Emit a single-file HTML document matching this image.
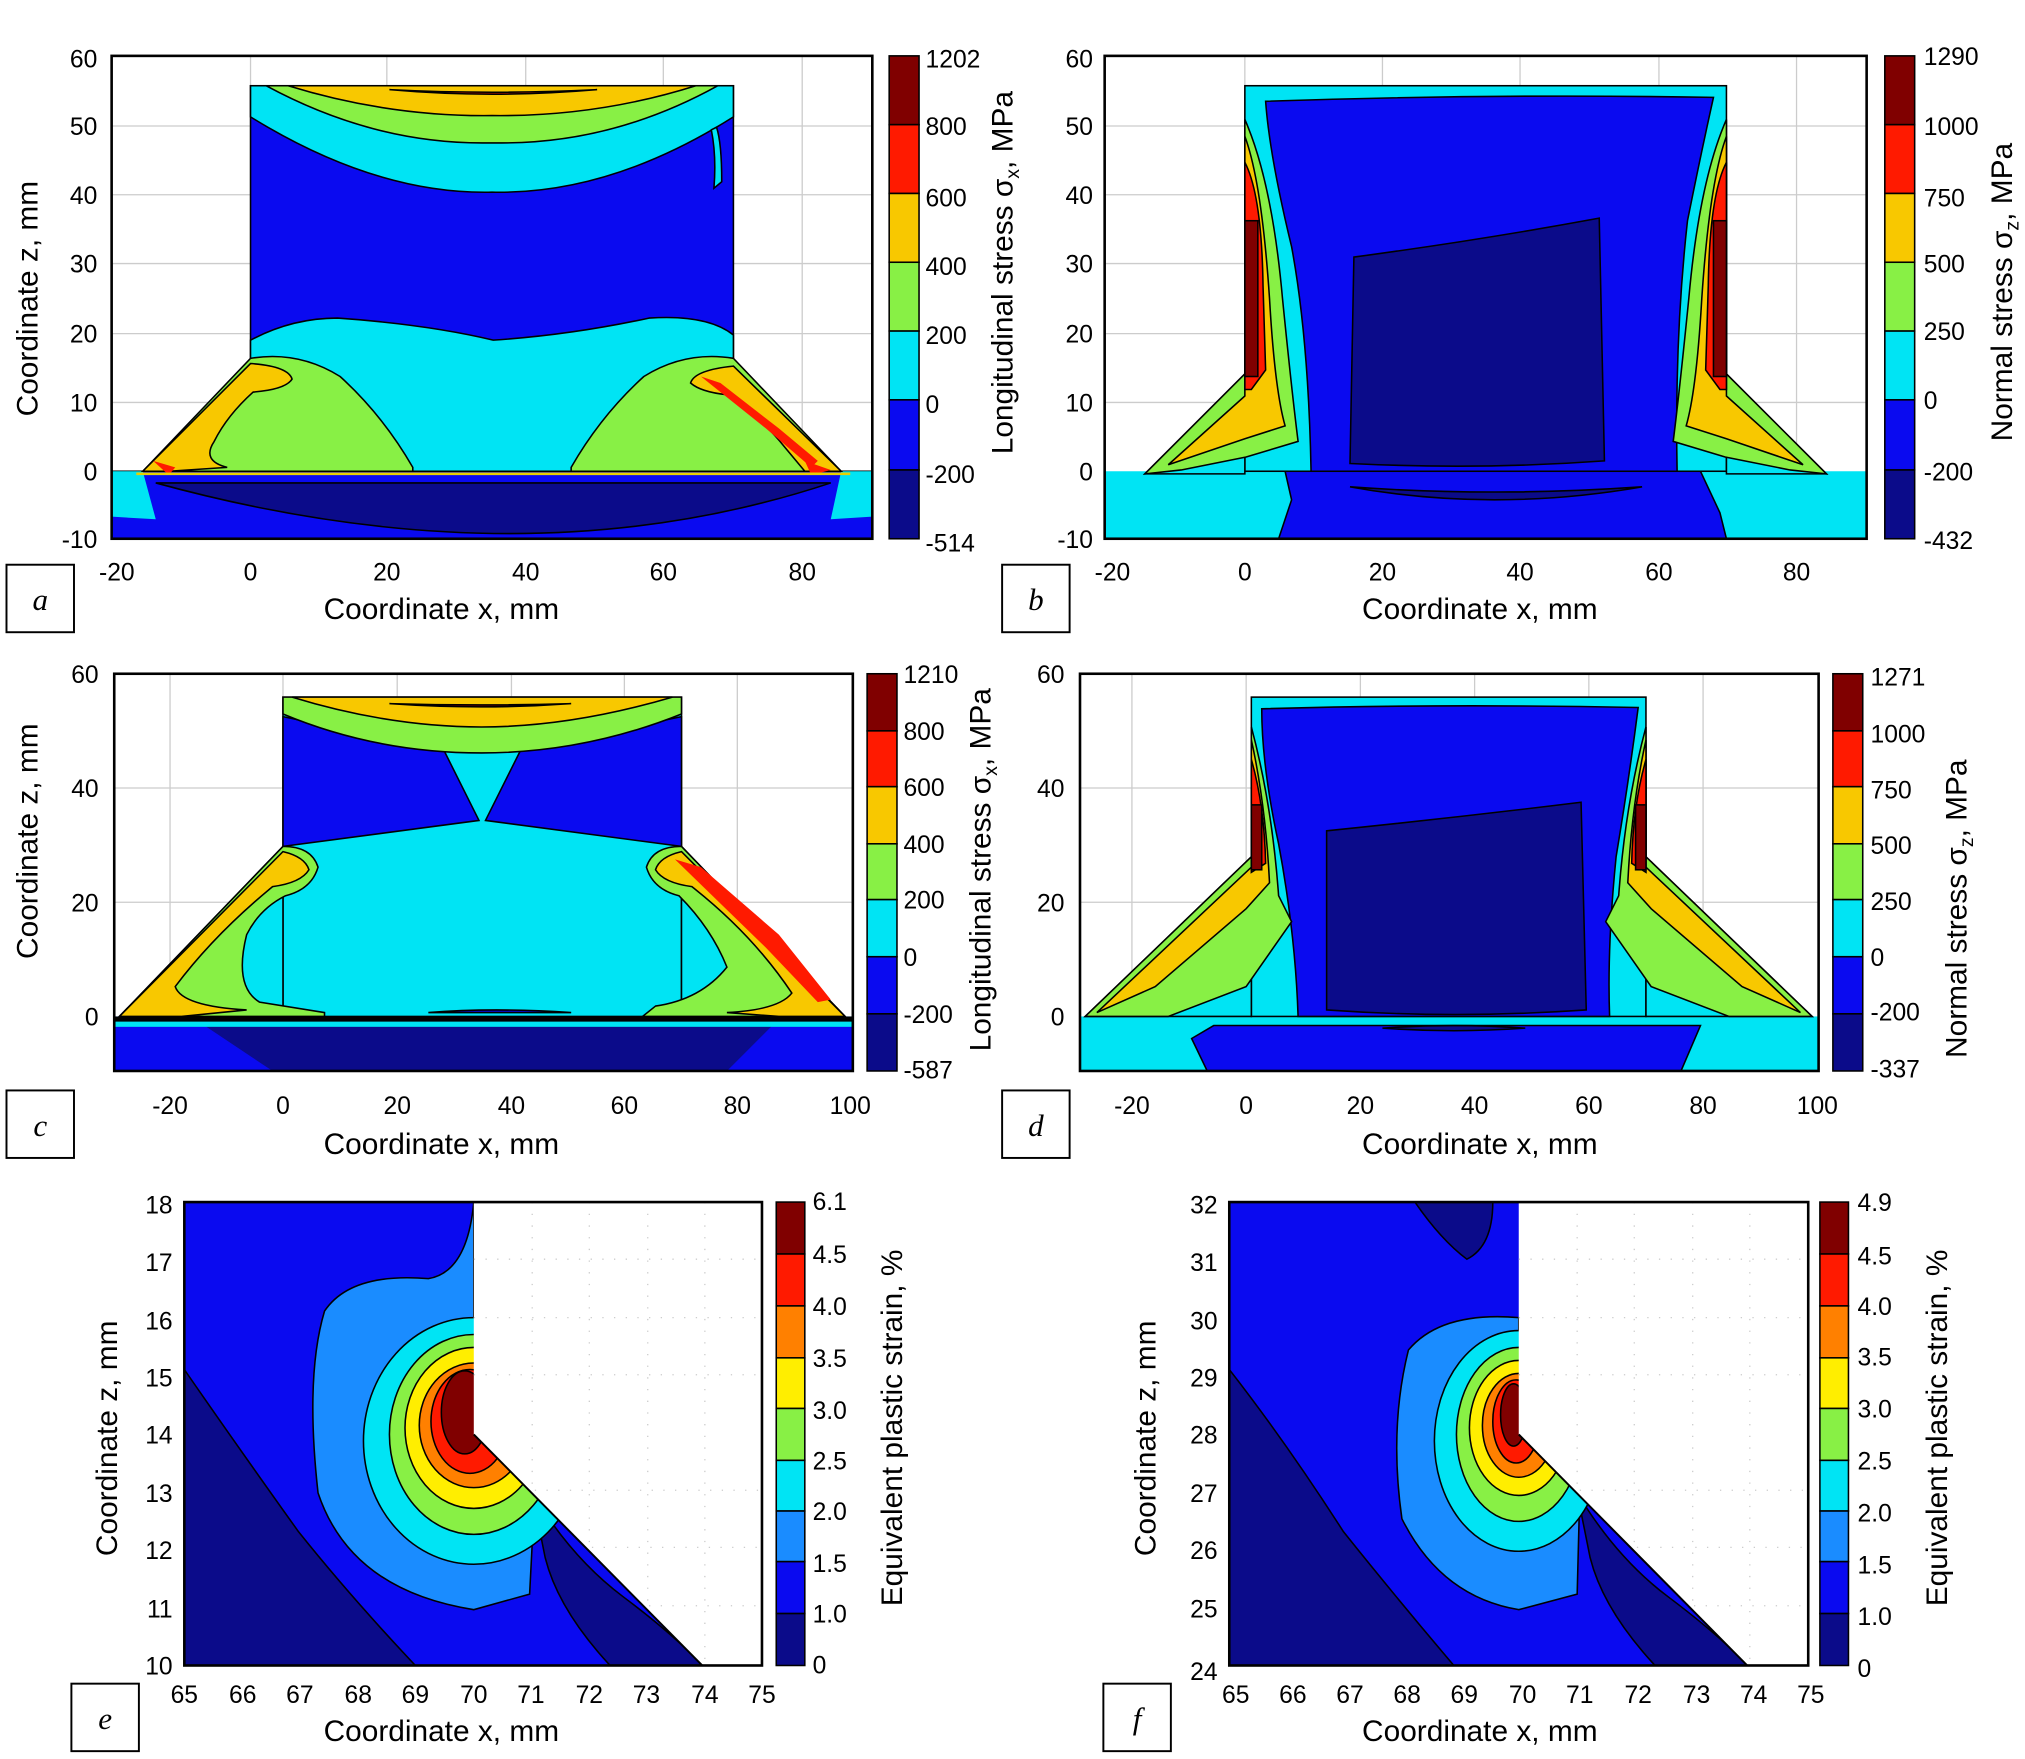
<!DOCTYPE html>
<html><head><meta charset="utf-8"><style>
html,body{margin:0;padding:0;background:#fff}
svg{display:block}
text{font-family:"Liberation Sans",sans-serif;fill:#000}
.t{font-size:19px}
.l{font-size:23px}
.it{font-size:24px;font-style:italic;font-family:"Liberation Serif",serif}
.ax{fill:none;stroke:#000;stroke-width:2}
.g{stroke:#ccc;stroke-width:1}
.k{stroke:#000;stroke-width:1.2}
</style></head><body>
<svg width="2025" height="1759" viewBox="0 0 1560 1355" xmlns="http://www.w3.org/2000/svg">
<defs>
<clipPath id="ca"><rect x="86" y="43" width="586" height="372"/></clipPath>
<clipPath id="cb"><rect x="851" y="43" width="587" height="372"/></clipPath>
<clipPath id="cc"><rect x="88" y="519" width="569" height="306"/></clipPath>
<clipPath id="cd"><rect x="832" y="519" width="569" height="306"/></clipPath>
<clipPath id="ce"><rect x="142" y="926" width="445" height="357"/></clipPath>
<clipPath id="cf"><rect x="947" y="926" width="446" height="357"/></clipPath>
</defs>

<!-- ===== Panel a ===== -->
<g>
<g class="g">
<line x1="193" y1="43" x2="193" y2="415"/><line x1="298" y1="43" x2="298" y2="415"/><line x1="405" y1="43" x2="405" y2="415"/><line x1="511" y1="43" x2="511" y2="415"/><line x1="618" y1="43" x2="618" y2="415"/>
<line x1="86" y1="97" x2="672" y2="97"/><line x1="86" y1="150" x2="672" y2="150"/><line x1="86" y1="203" x2="672" y2="203"/><line x1="86" y1="257" x2="672" y2="257"/><line x1="86" y1="310" x2="672" y2="310"/>
</g>
<g clip-path="url(#ca)" class="k">
<rect x="86" y="363" width="586" height="52" fill="#0a0af0"/>
<path d="M86,363 L110,363 L120,400 L86,398Z" fill="#00e4f4" stroke="none"/>
<path d="M672,363 L648,363 L640,400 L672,398Z" fill="#00e4f4" stroke="none"/>
<path d="M120,372 Q405,450 640,372Z" fill="#0b0b8a"/>
<rect x="193" y="66" width="372" height="297" fill="#0a0af0"/>
<path d="M193,275 L193,262 Q225,245 260,245 Q330,250 380,262 Q440,258 500,245 Q545,242 565,258 L565,363 L193,363Z" fill="#00e4f4"/>
<path d="M193,66 L565,66 L565,90 Q470,150 379,148 Q290,150 193,90Z" fill="#00e4f4"/>
<path d="M205,66 L553,66 Q470,112 379,110 Q290,112 205,66Z" fill="#88f045"/>
<path d="M222,66 L536,66 Q460,90 379,89 Q300,90 222,66Z" fill="#f8c800"/>
<path d="M300,69 Q379,76 460,69 Q379,73 300,69Z" fill="#ff1a00"/>
<path d="M548,100 Q552,120 550,145 L556,140 Q556,110 552,98Z" fill="#00e4f4"/>
<path d="M110,363 L193,276 Q230,270 262,290 Q295,320 318,360 L318,363Z" fill="#88f045"/>
<path d="M110,363 L193,280 Q222,282 225,292 Q220,300 195,302 Q175,320 165,340 Q155,355 175,360 L130,363Z" fill="#f8c800"/>
<path d="M648,363 L565,276 Q528,270 496,290 Q463,320 440,360 L440,363Z" fill="#88f045"/>
<path d="M648,363 L565,282 Q535,285 532,295 Q540,302 560,304 Q585,320 605,345 L620,363Z" fill="#f8c800"/>
<path d="M540,290 L555,295 L600,330 L630,355 L625,360 L590,330Z" fill="#ff1a00" stroke="none"/>
<path d="M118,355 L135,360 L130,366Z" fill="#ff1a00" stroke="none"/>
<path d="M620,355 L640,362 L625,366Z" fill="#ff1a00" stroke="none"/>
<line x1="105" y1="365" x2="655" y2="365" stroke="#e8d000" stroke-width="2"/>
</g>
<rect x="86" y="43" width="586" height="372" class="ax"/>
<g class="t" text-anchor="end">
<text x="75" y="52">60</text><text x="75" y="104">50</text><text x="75" y="157">40</text><text x="75" y="210">30</text><text x="75" y="264">20</text><text x="75" y="317">10</text><text x="75" y="370">0</text><text x="75" y="422">-10</text>
</g>
<g class="t" text-anchor="middle">
<text x="90" y="447">-20</text><text x="193" y="447">0</text><text x="298" y="447">20</text><text x="405" y="447">40</text><text x="511" y="447">60</text><text x="618" y="447">80</text>
</g>
<text class="l" x="340" y="477" text-anchor="middle">Coordinate x, mm</text>
<text class="l" transform="translate(29,230) rotate(-90)" text-anchor="middle">Coordinate z, mm</text>
<g class="k">
<rect x="685" y="43" width="23" height="53" fill="#800000"/><rect x="685" y="96" width="23" height="53" fill="#ff1a00"/><rect x="685" y="149" width="23" height="53" fill="#f8c800"/><rect x="685" y="202" width="23" height="53" fill="#88f045"/><rect x="685" y="255" width="23" height="53" fill="#00e4f4"/><rect x="685" y="308" width="23" height="54" fill="#0a0af0"/><rect x="685" y="362" width="23" height="53" fill="#0b0b8a"/>
</g>
<g class="t"><text x="713" y="52">1202</text><text x="713" y="104">800</text><text x="713" y="159">600</text><text x="713" y="212">400</text><text x="713" y="265">200</text><text x="713" y="318">0</text><text x="713" y="372">-200</text><text x="713" y="425">-514</text></g>
<text class="l" transform="translate(780,210) rotate(-90)" text-anchor="middle">Longitudinal stress σ<tspan font-size="15" dy="5">x</tspan><tspan dy="-5">, MPa</tspan></text>
<rect x="5" y="435" width="52" height="52" fill="#fff" stroke="#000" stroke-width="1.5"/><text class="it" x="31" y="470" text-anchor="middle">a</text>
</g>

<!-- ===== Panel b ===== -->
<g>
<g class="g">
<line x1="959" y1="43" x2="959" y2="415"/><line x1="1065" y1="43" x2="1065" y2="415"/><line x1="1171" y1="43" x2="1171" y2="415"/><line x1="1278" y1="43" x2="1278" y2="415"/><line x1="1384" y1="43" x2="1384" y2="415"/>
<line x1="851" y1="97" x2="1438" y2="97"/><line x1="851" y1="150" x2="1438" y2="150"/><line x1="851" y1="203" x2="1438" y2="203"/><line x1="851" y1="257" x2="1438" y2="257"/><line x1="851" y1="310" x2="1438" y2="310"/>
</g>
<g clip-path="url(#cb)" class="k">
<rect x="851" y="363" width="587" height="52" fill="#00e4f4" stroke="none"/>
<path d="M990,363 L1310,363 L1325,395 L1330,415 L985,415 L995,385Z" fill="#0a0af0"/>
<path d="M1040,375 Q1150,395 1265,375 Q1150,383 1040,375Z" fill="#0b0b8a"/>
<rect x="959" y="66" width="371" height="297" fill="#00e4f4"/>
<path d="M882,365 L959,288 L959,365Z" fill="#00e4f4"/>
<path d="M1407,365 L1330,288 L1330,365Z" fill="#00e4f4"/>
<path d="M975,78 Q1150,72 1320,75 Q1310,120 1300,170 Q1290,260 1292,363 L1010,363 Q1008,260 995,190 Q978,120 975,78Z" fill="#0a0af0"/>
<path d="M1043,198 Q1140,185 1232,168 L1236,355 Q1140,362 1040,357Z" fill="#0b0b8a"/>
<path d="M882,365 L959,288 L959,92 Q980,140 988,230 Q995,300 1000,340 L960,352 L910,362Z" fill="#88f045"/>
<path d="M900,358 L959,305 L959,105 Q972,140 978,230 Q982,300 990,328 L959,338Z" fill="#f8c800"/>
<path d="M959,125 Q972,150 973,220 L975,285 L964,300 L959,300Z" fill="#ff1a00"/>
<rect x="959" y="170" width="10" height="120" fill="#800000"/>
<path d="M1407,365 L1330,288 L1330,92 Q1309,140 1301,230 Q1294,300 1289,340 L1329,352 L1379,362Z" fill="#88f045"/>
<path d="M1389,358 L1330,305 L1330,105 Q1317,140 1311,230 Q1307,300 1299,328 L1330,338Z" fill="#f8c800"/>
<path d="M1330,125 Q1317,150 1316,220 L1314,285 L1325,300 L1330,300Z" fill="#ff1a00"/>
<rect x="1320" y="170" width="10" height="120" fill="#800000"/>
</g>
<rect x="851" y="43" width="587" height="372" class="ax"/>
<g class="t" text-anchor="end">
<text x="842" y="52">60</text><text x="842" y="104">50</text><text x="842" y="157">40</text><text x="842" y="210">30</text><text x="842" y="264">20</text><text x="842" y="317">10</text><text x="842" y="370">0</text><text x="842" y="422">-10</text>
</g>
<g class="t" text-anchor="middle">
<text x="857" y="447">-20</text><text x="959" y="447">0</text><text x="1065" y="447">20</text><text x="1171" y="447">40</text><text x="1278" y="447">60</text><text x="1384" y="447">80</text>
</g>
<text class="l" x="1140" y="477" text-anchor="middle">Coordinate x, mm</text>
<g class="k">
<rect x="1452" y="43" width="23" height="53" fill="#800000"/><rect x="1452" y="96" width="23" height="53" fill="#ff1a00"/><rect x="1452" y="149" width="23" height="53" fill="#f8c800"/><rect x="1452" y="202" width="23" height="53" fill="#88f045"/><rect x="1452" y="255" width="23" height="53" fill="#00e4f4"/><rect x="1452" y="308" width="23" height="54" fill="#0a0af0"/><rect x="1452" y="362" width="23" height="53" fill="#0b0b8a"/>
</g>
<g class="t"><text x="1482" y="50">1290</text><text x="1482" y="104">1000</text><text x="1482" y="159">750</text><text x="1482" y="210">500</text><text x="1482" y="262">250</text><text x="1482" y="315">0</text><text x="1482" y="370">-200</text><text x="1482" y="423">-432</text></g>
<text class="l" transform="translate(1550,225) rotate(-90)" text-anchor="middle">Normal stress σ<tspan font-size="15" dy="5">z</tspan><tspan dy="-5">, MPa</tspan></text>
<rect x="772" y="435" width="52" height="52" fill="#fff" stroke="#000" stroke-width="1.5"/><text class="it" x="798" y="470" text-anchor="middle">b</text>
</g>

<!-- ===== Panel c ===== -->
<g>
<g class="g">
<line x1="131" y1="519" x2="131" y2="825"/><line x1="218" y1="519" x2="218" y2="825"/><line x1="306" y1="519" x2="306" y2="825"/><line x1="394" y1="519" x2="394" y2="825"/><line x1="481" y1="519" x2="481" y2="825"/><line x1="568" y1="519" x2="568" y2="825"/>
<line x1="88" y1="607" x2="657" y2="607"/><line x1="88" y1="695" x2="657" y2="695"/>
</g>
<g clip-path="url(#cc)" class="k">
<rect x="88" y="783" width="569" height="42" fill="#0a0af0" stroke="none"/>
<path d="M150,785 L600,785 L560,825 L210,825Z" fill="#0b0b8a" stroke="none"/>
<rect x="88" y="783" width="569" height="8" fill="#00e4f4" stroke="none"/>
<rect x="218" y="537" width="307" height="246" fill="#00e4f4"/>
<path d="M92,783 L218,652 L218,783Z" fill="#00e4f4"/>
<path d="M651,783 L525,652 L525,783Z" fill="#00e4f4"/>
<path d="M218,552 L342,578 L369,632 L218,652Z" fill="#0a0af0"/>
<path d="M525,552 L401,578 L374,632 L525,652Z" fill="#0a0af0"/>
<path d="M218,537 L525,537 L525,550 Q450,580 371,580 Q290,580 218,550Z" fill="#88f045"/>
<path d="M225,537 L518,537 Q440,560 371,560 Q300,560 225,537Z" fill="#f8c800"/>
<path d="M300,542 Q371,547 440,542 Q371,544 300,542Z" fill="#800000"/>
<path d="M92,783 L218,652 Q240,652 245,668 Q240,685 220,690 Q200,700 190,720 Q180,760 200,772 L250,780 L250,783Z" fill="#88f045"/>
<path d="M92,783 L218,656 Q235,660 238,670 Q232,680 210,683 Q165,720 135,760 Q140,775 190,778 L140,783Z" fill="#f8c800"/>
<path d="M651,783 L525,652 Q503,652 498,668 Q503,685 523,690 Q548,715 560,745 Q540,770 505,775 L495,783Z" fill="#88f045"/>
<path d="M651,783 L525,656 Q508,660 505,670 Q511,680 533,683 Q580,720 610,765 Q600,778 560,780 L600,783Z" fill="#f8c800"/>
<path d="M520,662 L540,668 L600,720 L640,770 L630,772 L590,730Z" fill="#ff1a00" stroke="none"/>
<line x1="88" y1="785" x2="657" y2="785" stroke="#000" stroke-width="4"/>
<path d="M330,780 Q380,776 440,780Z" fill="#0a0af0"/>
</g>
<rect x="88" y="519" width="569" height="306" class="ax"/>
<g class="t" text-anchor="end">
<text x="76" y="526">60</text><text x="76" y="614">40</text><text x="76" y="702">20</text><text x="76" y="790">0</text>
</g>
<g class="t" text-anchor="middle">
<text x="131" y="858">-20</text><text x="218" y="858">0</text><text x="306" y="858">20</text><text x="394" y="858">40</text><text x="481" y="858">60</text><text x="568" y="858">80</text><text x="655" y="858">100</text>
</g>
<text class="l" x="340" y="889" text-anchor="middle">Coordinate x, mm</text>
<text class="l" transform="translate(29,648) rotate(-90)" text-anchor="middle">Coordinate z, mm</text>
<g class="k">
<rect x="668" y="519" width="23" height="44" fill="#800000"/><rect x="668" y="563" width="23" height="43" fill="#ff1a00"/><rect x="668" y="606" width="23" height="44" fill="#f8c800"/><rect x="668" y="650" width="23" height="43" fill="#88f045"/><rect x="668" y="693" width="23" height="44" fill="#00e4f4"/><rect x="668" y="737" width="23" height="44" fill="#0a0af0"/><rect x="668" y="781" width="23" height="44" fill="#0b0b8a"/>
</g>
<g class="t"><text x="696" y="526">1210</text><text x="696" y="570">800</text><text x="696" y="613">600</text><text x="696" y="657">400</text><text x="696" y="700">200</text><text x="696" y="744">0</text><text x="696" y="788">-200</text><text x="696" y="831">-587</text></g>
<text class="l" transform="translate(763,670) rotate(-90)" text-anchor="middle">Longitudinal stress σ<tspan font-size="15" dy="5">x</tspan><tspan dy="-5">, MPa</tspan></text>
<rect x="5" y="840" width="52" height="52" fill="#fff" stroke="#000" stroke-width="1.5"/><text class="it" x="31" y="875" text-anchor="middle">c</text>
</g>

<!-- ===== Panel d ===== -->
<g>
<g class="g">
<line x1="872" y1="519" x2="872" y2="825"/><line x1="960" y1="519" x2="960" y2="825"/><line x1="1048" y1="519" x2="1048" y2="825"/><line x1="1136" y1="519" x2="1136" y2="825"/><line x1="1224" y1="519" x2="1224" y2="825"/><line x1="1312" y1="519" x2="1312" y2="825"/>
<line x1="832" y1="607" x2="1401" y2="607"/><line x1="832" y1="695" x2="1401" y2="695"/>
</g>
<g clip-path="url(#cd)" class="k">
<rect x="832" y="783" width="569" height="42" fill="#00e4f4" stroke="none"/>
<path d="M935,790 L1310,790 L1295,825 L930,825 L918,800Z" fill="#0a0af0"/>
<path d="M1065,792 Q1120,796 1175,792 Q1120,788 1065,792Z" fill="#0b0b8a"/>
<rect x="964" y="537" width="304" height="246" fill="#00e4f4"/>
<path d="M836,783 L964,660 L964,783Z" fill="#00e4f4"/>
<path d="M1396,783 L1268,660 L1268,783Z" fill="#00e4f4"/>
<path d="M972,546 Q1110,542 1262,545 Q1255,600 1245,660 Q1238,730 1240,783 L1000,783 Q998,720 985,650 Q972,590 972,546Z" fill="#0a0af0"/>
<path d="M1022,640 Q1120,630 1218,618 L1222,778 Q1120,785 1022,778Z" fill="#0b0b8a"/>
<path d="M836,783 L964,660 L964,560 Q980,620 985,690 L995,710 L960,760 L900,783Z" fill="#88f045"/>
<path d="M845,780 L964,668 L964,570 Q975,620 978,680 L960,700 L890,760Z" fill="#f8c800"/>
<path d="M964,585 Q974,620 975,665 L964,672Z" fill="#ff1a00"/>
<rect x="964" y="620" width="8" height="50" fill="#800000"/>
<path d="M1396,783 L1268,660 L1268,560 Q1252,620 1247,690 L1237,710 L1272,760 L1332,783Z" fill="#88f045"/>
<path d="M1387,780 L1268,668 L1268,570 Q1257,620 1254,680 L1272,700 L1342,760Z" fill="#f8c800"/>
<path d="M1268,585 Q1258,620 1257,665 L1268,672Z" fill="#ff1a00"/>
<rect x="1260" y="620" width="8" height="50" fill="#800000"/>
</g>
<rect x="832" y="519" width="569" height="306" class="ax"/>
<g class="t" text-anchor="end">
<text x="820" y="526">60</text><text x="820" y="614">40</text><text x="820" y="702">20</text><text x="820" y="790">0</text>
</g>
<g class="t" text-anchor="middle">
<text x="872" y="858">-20</text><text x="960" y="858">0</text><text x="1048" y="858">20</text><text x="1136" y="858">40</text><text x="1224" y="858">60</text><text x="1312" y="858">80</text><text x="1400" y="858">100</text>
</g>
<text class="l" x="1140" y="889" text-anchor="middle">Coordinate x, mm</text>
<g class="k">
<rect x="1412" y="519" width="23" height="44" fill="#800000"/><rect x="1412" y="563" width="23" height="43" fill="#ff1a00"/><rect x="1412" y="606" width="23" height="44" fill="#f8c800"/><rect x="1412" y="650" width="23" height="43" fill="#88f045"/><rect x="1412" y="693" width="23" height="44" fill="#00e4f4"/><rect x="1412" y="737" width="23" height="44" fill="#0a0af0"/><rect x="1412" y="781" width="23" height="44" fill="#0b0b8a"/>
</g>
<g class="t"><text x="1441" y="528">1271</text><text x="1441" y="572">1000</text><text x="1441" y="615">750</text><text x="1441" y="658">500</text><text x="1441" y="701">250</text><text x="1441" y="744">0</text><text x="1441" y="786">-200</text><text x="1441" y="830">-337</text></g>
<text class="l" transform="translate(1515,700) rotate(-90)" text-anchor="middle">Normal stress σ<tspan font-size="15" dy="5">z</tspan><tspan dy="-5">, MPa</tspan></text>
<rect x="772" y="840" width="52" height="52" fill="#fff" stroke="#000" stroke-width="1.5"/><text class="it" x="798" y="875" text-anchor="middle">d</text>
</g>

<!-- ===== Panel e ===== -->
<g>
<g clip-path="url(#ce)" class="k">
<rect x="142" y="926" width="445" height="357" fill="#0a0af0" stroke="none"/>
<path d="M142,1055 Q180,1110 230,1180 Q270,1230 320,1283 L142,1283Z" fill="#0b0b8a"/>
<path d="M410,1150 Q440,1200 480,1230 Q520,1260 541,1283 L470,1283 Q430,1240 420,1200Z" fill="#0b0b8a"/>
<path d="M365,926 Q360,980 330,985 Q270,980 250,1010 Q235,1060 245,1150 Q270,1225 365,1240 L408,1228 L412,1150 L365,1105Z" fill="#1a8cff"/>
<ellipse cx="365" cy="1110" rx="85" ry="95" fill="#00e4f4"/>
<ellipse cx="365" cy="1105" rx="65" ry="77" fill="#88f045"/>
<ellipse cx="365" cy="1100" rx="53" ry="62" fill="#ffee00"/>
<ellipse cx="365" cy="1098" rx="42" ry="48" fill="#ff8000"/>
<ellipse cx="362" cy="1095" rx="30" ry="40" fill="#ff1a00"/>
<ellipse cx="358" cy="1088" rx="18" ry="32" fill="#800000"/>
<path d="M365,926 L590,926 L590,1283 L541,1283 L365,1105Z" fill="#fff" stroke="none"/>
<path d="M365,1105 L541,1283" stroke="#000" stroke-width="1.5"/>
</g>
<g class="g" stroke-dasharray="1 8">
<line x1="410" y1="926" x2="410" y2="1150"/><line x1="454" y1="926" x2="454" y2="1190"/><line x1="499" y1="926" x2="499" y2="1235"/><line x1="543" y1="926" x2="543" y2="1280"/>
<line x1="365" y1="970" x2="587" y2="970"/><line x1="365" y1="1015" x2="587" y2="1015"/><line x1="365" y1="1059" x2="587" y2="1059"/><line x1="412" y1="1148" x2="587" y2="1148"/><line x1="456" y1="1192" x2="587" y2="1192"/><line x1="500" y1="1237" x2="587" y2="1237"/>
</g>
<rect x="142" y="926" width="445" height="357" class="ax"/>
<g class="t" text-anchor="end">
<text x="133" y="935">18</text><text x="133" y="979">17</text><text x="133" y="1024">16</text><text x="133" y="1068">15</text><text x="133" y="1112">14</text><text x="133" y="1157">13</text><text x="133" y="1201">12</text><text x="133" y="1246">11</text><text x="133" y="1290">10</text>
</g>
<g class="t" text-anchor="middle">
<text x="142" y="1312">65</text><text x="187" y="1312">66</text><text x="231" y="1312">67</text><text x="276" y="1312">68</text><text x="320" y="1312">69</text><text x="365" y="1312">70</text><text x="409" y="1312">71</text><text x="454" y="1312">72</text><text x="498" y="1312">73</text><text x="543" y="1312">74</text><text x="587" y="1312">75</text>
</g>
<text class="l" x="340" y="1341" text-anchor="middle">Coordinate x, mm</text>
<text class="l" transform="translate(90,1108) rotate(-90)" text-anchor="middle">Coordinate z, mm</text>
<g class="k">
<rect x="598" y="926" width="22" height="40" fill="#800000"/><rect x="598" y="966" width="22" height="40" fill="#ff1a00"/><rect x="598" y="1006" width="22" height="40" fill="#ff8000"/><rect x="598" y="1046" width="22" height="39" fill="#ffee00"/><rect x="598" y="1085" width="22" height="40" fill="#88f045"/><rect x="598" y="1125" width="22" height="39" fill="#00e4f4"/><rect x="598" y="1164" width="22" height="39" fill="#1a8cff"/><rect x="598" y="1203" width="22" height="40" fill="#0a0af0"/><rect x="598" y="1243" width="22" height="40" fill="#0b0b8a"/>
</g>
<g class="t"><text x="626" y="932">6.1</text><text x="626" y="973">4.5</text><text x="626" y="1013">4.0</text><text x="626" y="1053">3.5</text><text x="626" y="1093">3.0</text><text x="626" y="1132">2.5</text><text x="626" y="1171">2.0</text><text x="626" y="1211">1.5</text><text x="626" y="1250">1.0</text><text x="626" y="1289">0</text></g>
<text class="l" transform="translate(695,1100) rotate(-90)" text-anchor="middle">Equivalent plastic strain, %</text>
<rect x="55" y="1297" width="52" height="52" fill="#fff" stroke="#000" stroke-width="1.5"/><text class="it" x="81" y="1332" text-anchor="middle">e</text>
</g>

<!-- ===== Panel f ===== -->
<g>
<g clip-path="url(#cf)" class="k">
<rect x="947" y="926" width="446" height="357" fill="#0a0af0" stroke="none"/>
<path d="M947,1055 Q990,1110 1035,1180 Q1075,1230 1120,1283 L947,1283Z" fill="#0b0b8a"/>
<path d="M1090,926 L1150,926 Q1150,960 1130,970 Q1110,955 1090,926Z" fill="#0b0b8a"/>
<path d="M1215,1150 Q1245,1200 1285,1230 Q1325,1260 1346,1283 L1275,1283 Q1235,1240 1225,1200Z" fill="#0b0b8a"/>
<path d="M1170,1015 Q1110,1010 1085,1040 Q1070,1100 1080,1170 Q1110,1230 1170,1240 L1215,1228 L1217,1150 L1170,1105Z" fill="#1a8cff"/>
<ellipse cx="1170" cy="1110" rx="65" ry="85" fill="#00e4f4"/>
<ellipse cx="1170" cy="1105" rx="48" ry="67" fill="#88f045"/>
<ellipse cx="1170" cy="1100" rx="38" ry="52" fill="#ffee00"/>
<ellipse cx="1170" cy="1098" rx="28" ry="40" fill="#ff8000"/>
<ellipse cx="1168" cy="1095" rx="18" ry="32" fill="#ff1a00"/>
<ellipse cx="1166" cy="1090" rx="10" ry="24" fill="#800000"/>
<path d="M1170,926 L1395,926 L1395,1283 L1346,1283 L1170,1105Z" fill="#fff" stroke="none"/>
<path d="M1170,1105 L1346,1283" stroke="#000" stroke-width="1.5"/>
</g>
<g class="g" stroke-dasharray="1 8">
<line x1="1215" y1="926" x2="1215" y2="1150"/><line x1="1259" y1="926" x2="1259" y2="1190"/><line x1="1304" y1="926" x2="1304" y2="1235"/><line x1="1348" y1="926" x2="1348" y2="1280"/>
<line x1="1170" y1="970" x2="1393" y2="970"/><line x1="1170" y1="1015" x2="1393" y2="1015"/><line x1="1170" y1="1059" x2="1393" y2="1059"/><line x1="1217" y1="1148" x2="1393" y2="1148"/><line x1="1261" y1="1192" x2="1393" y2="1192"/><line x1="1305" y1="1237" x2="1393" y2="1237"/>
</g>
<rect x="947" y="926" width="446" height="357" class="ax"/>
<g class="t" text-anchor="end">
<text x="938" y="935">32</text><text x="938" y="979">31</text><text x="938" y="1024">30</text><text x="938" y="1068">29</text><text x="938" y="1112">28</text><text x="938" y="1157">27</text><text x="938" y="1201">26</text><text x="938" y="1246">25</text><text x="938" y="1294">24</text>
</g>
<g class="t" text-anchor="middle">
<text x="952" y="1312">65</text><text x="996" y="1312">66</text><text x="1040" y="1312">67</text><text x="1084" y="1312">68</text><text x="1128" y="1312">69</text><text x="1173" y="1312">70</text><text x="1217" y="1312">71</text><text x="1262" y="1312">72</text><text x="1307" y="1312">73</text><text x="1351" y="1312">74</text><text x="1395" y="1312">75</text>
</g>
<text class="l" x="1140" y="1341" text-anchor="middle">Coordinate x, mm</text>
<text class="l" transform="translate(890,1108) rotate(-90)" text-anchor="middle">Coordinate z, mm</text>
<g class="k">
<rect x="1402" y="926" width="22" height="40" fill="#800000"/><rect x="1402" y="966" width="22" height="40" fill="#ff1a00"/><rect x="1402" y="1006" width="22" height="40" fill="#ff8000"/><rect x="1402" y="1046" width="22" height="39" fill="#ffee00"/><rect x="1402" y="1085" width="22" height="40" fill="#88f045"/><rect x="1402" y="1125" width="22" height="39" fill="#00e4f4"/><rect x="1402" y="1164" width="22" height="39" fill="#1a8cff"/><rect x="1402" y="1203" width="22" height="40" fill="#0a0af0"/><rect x="1402" y="1243" width="22" height="40" fill="#0b0b8a"/>
</g>
<g class="t"><text x="1431" y="933">4.9</text><text x="1431" y="974">4.5</text><text x="1431" y="1013">4.0</text><text x="1431" y="1052">3.5</text><text x="1431" y="1092">3.0</text><text x="1431" y="1132">2.5</text><text x="1431" y="1172">2.0</text><text x="1431" y="1212">1.5</text><text x="1431" y="1252">1.0</text><text x="1431" y="1292">0</text></g>
<text class="l" transform="translate(1500,1100) rotate(-90)" text-anchor="middle">Equivalent plastic strain, %</text>
<rect x="850" y="1297" width="52" height="52" fill="#fff" stroke="#000" stroke-width="1.5"/><text class="it" x="876" y="1332" text-anchor="middle">f</text>
</g>
</svg>
</body></html>
